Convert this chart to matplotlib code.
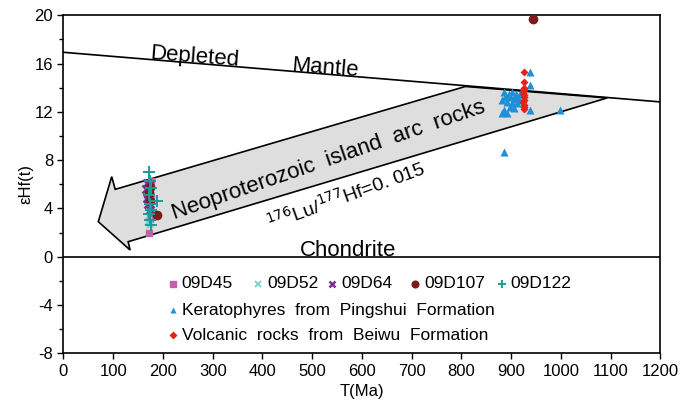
"""Hf isotope evolution plot: eHf(t) vs. crystallization age."""
import matplotlib
matplotlib.use("Agg")
import matplotlib.pyplot as plt
from matplotlib.patches import Polygon
from matplotlib.lines import Line2D
from matplotlib.ticker import MultipleLocator

plt.rcParams["font.family"] = ["Liberation Sans", "DejaVu Sans"]
plt.rcParams["axes.unicode_minus"] = False

# reference lines
dm_t = [0, 1200]
dm_eps = [16.93, 12.82]

# Neoproterozoic island-arc evolution band (176Lu/177Hf = 0.015)
arrow_t = [70, 97, 104, 808, 1093, 130, 134]
arrow_eps = [2.9, 6.63, 5.58, 14.1, 13.15, 1.24, 0.55]

# zircon samples
d45_t = [172, 173, 174, 172, 175, 173, 174, 176]
d45_e = [2.0, 3.1, 3.7, 4.3, 4.9, 5.4, 5.9, 6.3]

d52_t = [170, 172, 174, 171, 173, 175, 172, 174]
d52_e = [2.9, 3.4, 3.8, 4.2, 4.7, 5.1, 5.5, 2.6]

d64_t = [165, 168, 170, 172, 169, 171, 173, 167, 170]
d64_e = [5.6, 6.1, 5.2, 4.8, 4.4, 5.9, 3.9, 4.9, 6.0]

d107_t = [188, 172, 174, 173, 944]
d107_e = [3.45, 5.3, 4.6, 5.8, 19.7]

d122_t = [171, 188, 173, 175, 172, 174, 176, 171, 173, 175]
d122_e = [7.0, 4.6, 6.3, 5.7, 5.1, 4.4, 3.9, 3.5, 3.0, 2.6]

pingshui_t = [937, 937, 885, 895, 902, 909, 898, 905, 912, 892, 902, 912,
              882, 898, 885, 882, 892, 905, 915, 937, 885, 998, 918, 888]
pingshui_e = [15.33, 14.2, 13.67, 13.5, 13.67, 13.5, 13.2, 13.1, 13.25, 12.84,
              12.7, 12.7, 12.98, 12.4, 12.15, 11.88, 11.88, 12.3, 13.0, 12.15,
              8.7, 12.15, 13.5, 13.25]

beiwu_t = [925, 925, 926, 925, 924, 925, 926, 925, 924, 925, 926, 925]
beiwu_e = [15.3, 14.45, 14.0, 13.8, 13.6, 13.4, 13.2, 13.0, 12.8, 12.6, 12.4, 12.2]

SERIES = [
    ("09D45", d45_t, d45_e, dict(marker="s", color="#c460a4", ms=5)),
    ("09D52", d52_t, d52_e, dict(marker="x", color="#6fcfc6", ms=5, mew=1.2)),
    ("09D64", d64_t, d64_e, dict(marker="x", color="#7b2f8e", ms=6, mew=1.8)),
    ("09D107", d107_t, d107_e, dict(marker="o", color="#7a1c1c", ms=6)),
    ("09D122", d122_t, d122_e, dict(marker="+", color="#1a9c9a", ms=8, mew=1.4)),
]

fig = plt.figure(figsize=(6.99, 4.01), dpi=100)
ax = fig.add_axes([0.0908, 0.119, 0.854, 0.843])

ax.add_patch(Polygon(list(zip(arrow_t, arrow_eps)), closed=True,
                     facecolor="#dedede", edgecolor="black", lw=1.2, zorder=1))
ax.plot(dm_t, dm_eps, color="black", lw=1.2, zorder=2)
ax.axhline(0, color="black", lw=1.2, zorder=2)

ax.plot(pingshui_t, pingshui_e, ls="none", marker="^", color="#1f8fd8",
        ms=6, mec="none", zorder=3)
ax.plot(beiwu_t, beiwu_e, ls="none", marker="D", color="#e3221c",
        ms=4.5, mec="none", zorder=4)
for name, t, e, st in SERIES:
    ax.plot(t, e, ls="none", zorder=4, **st)

ax.text(264, 16.5, "Depleted", fontsize=16, rotation=-4.5,
        ha="center", va="center")
ax.text(526, 15.6, "Mantle", fontsize=16, rotation=-4.5,
        ha="center", va="center")
ax.text(572, 0.5, "Chondrite", fontsize=16, ha="center", va="center")
ax.text(532, 8.0, "Neoproterozoic  island  arc  rocks", fontsize=16,
        rotation=19, ha="center", va="center", rotation_mode="anchor")
ax.text(568, 5.0, r"$^{176}$Lu/$^{177}$Hf=0. 015", fontsize=14,
        rotation=20, ha="center", va="center", rotation_mode="anchor")

# hand-built legend: five samples on one row, two literature fields below
leg_rows = [0.205, 0.128, 0.054]
row1_x = [0.183, 0.326, 0.450, 0.589, 0.734]
for (name, _, _, st), x in zip(SERIES, row1_x):
    kw = dict(st)
    kw["ms"] = kw["ms"] * 0.8
    ax.add_line(Line2D([x], [leg_rows[0]], transform=ax.transAxes, **kw))
    ax.text(x + 0.015, leg_rows[0], name, transform=ax.transAxes,
            fontsize=12.5, va="center")
ax.add_line(Line2D([0.183], [leg_rows[1]], transform=ax.transAxes,
                   marker="^", color="#1f8fd8", ms=5, mec="none"))
ax.text(0.198, leg_rows[1], "Keratophyres  from  Pingshui  Formation",
        transform=ax.transAxes, fontsize=12.5, va="center")
ax.add_line(Line2D([0.183], [leg_rows[2]], transform=ax.transAxes,
                   marker="D", color="#e3221c", ms=4, mec="none"))
ax.text(0.198, leg_rows[2], "Volcanic  rocks  from  Beiwu  Formation",
        transform=ax.transAxes, fontsize=12.5, va="center")

ax.set_xlim(0, 1200)
ax.set_ylim(-8, 20)
ax.xaxis.set_major_locator(MultipleLocator(100))
ax.yaxis.set_major_locator(MultipleLocator(4))
ax.yaxis.set_minor_locator(MultipleLocator(2))
ax.tick_params(labelsize=12, direction="out", length=4, width=1)
ax.tick_params(which="minor", direction="out", length=3, width=1)
for s in ax.spines.values():
    s.set_linewidth(1.2)
ax.set_xlabel("T(Ma)", fontsize=12, labelpad=4)
ax.set_ylabel("εHf(t)", fontsize=12, labelpad=1)

fig.savefig("out.png", dpi=100)
